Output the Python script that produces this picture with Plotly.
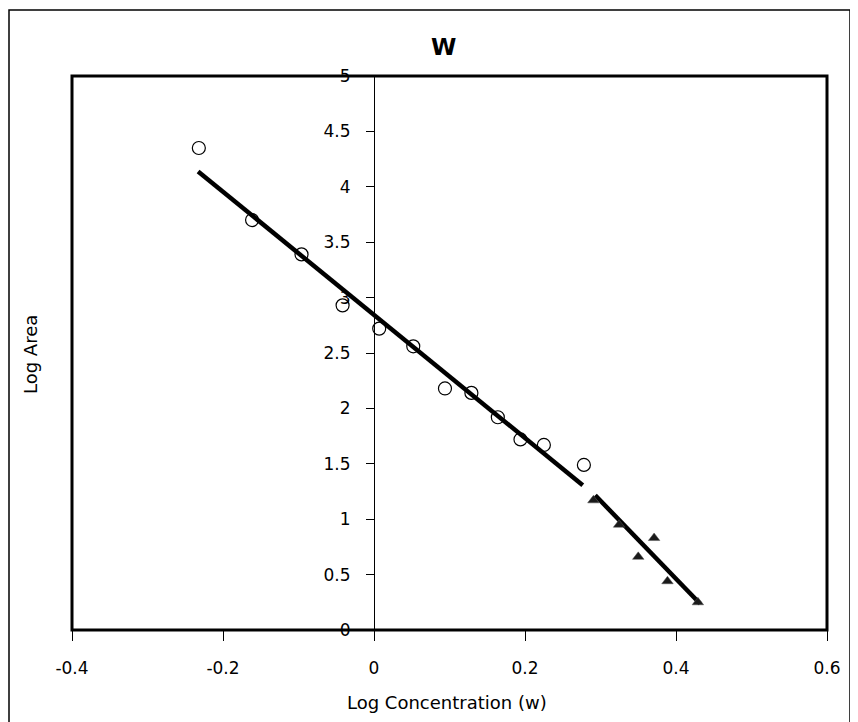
import plotly.graph_objects as go

# ---- data ----
conc_circle = [-0.232, -0.1615, -0.096, -0.0416, 0.0069, 0.052, 0.094, 0.129, 0.164, 0.194, 0.225, 0.278]
area_circle = [4.35, 3.70, 3.39, 2.93, 2.72, 2.56, 2.18, 2.14, 1.92, 1.72, 1.67, 1.49]

conc_tri = [0.2906, 0.3246, 0.350, 0.371, 0.3887, 0.429]
area_tri = [1.17, 0.95, 0.66, 0.83, 0.44, 0.25]

fit1_x = [-0.233, 0.2765]
fit1_y = [4.139, 1.307]
fit2_x = [0.293, 0.432]
fit2_y = [1.216, 0.237]

x_ticks = [-0.4, -0.2, 0, 0.2, 0.4, 0.6]
x_ticklabels = ["-0.4", "-0.2", "0", "0.2", "0.4", "0.6"]
y_ticks = [0, 0.5, 1, 1.5, 2, 2.5, 3, 3.5, 4, 4.5, 5]
y_ticklabels = ["0", "0.5", "1", "1.5", "2", "2.5", "3", "3.5", "4", "4.5", "5"]

title_text = "<b>W</b>"
x_title = "Log Concentration (w)"
y_title = "Log Area"

FONT = "DejaVu Sans, Verdana, sans-serif"

# page body has an 8px margin: figure-pixel helpers
W, H = 858, 722
ML, MR, MT, MB = 64, 39, 68, 100
PW, PH = W - ML - MR, H - MT - MB


def px_x(sx):
    """screen x -> paper x"""
    return (sx - 8 - ML) / PW


def px_y(sy):
    """screen y -> paper y"""
    return 1 - (sy - 8 - MT) / PH


fig = go.Figure()

fig.add_trace(go.Scatter(x=fit1_x, y=fit1_y, mode="lines",
                         line=dict(color="black", width=4.5), showlegend=False))
fig.add_trace(go.Scatter(x=fit2_x, y=fit2_y, mode="lines",
                         line=dict(color="black", width=4.5), showlegend=False))
fig.add_trace(go.Scatter(x=conc_circle, y=area_circle, mode="markers",
                         marker=dict(symbol="circle-open", size=13, color="black",
                                     line=dict(width=1.2, color="#222")),
                         showlegend=False))
fig.add_trace(go.Scatter(x=conc_tri, y=area_tri, mode="markers",
                         marker=dict(symbol="triangle-up", size=10, color="#1a1a1a",
                                     line=dict(width=0.5, color="#555")),
                         showlegend=False))

fig.update_layout(
    width=W, height=H,
    margin=dict(l=ML, r=MR, t=MT, b=MB),
    paper_bgcolor="white", plot_bgcolor="white",
    font=dict(family=FONT, size=17, color="black"),
    showlegend=False,
    xaxis=dict(
        range=[-0.4, 0.6], tickvals=x_ticks, ticktext=x_ticklabels,
        showgrid=False, zeroline=False,
        showline=False, ticks="outside", ticklen=10, tickwidth=1.2, tickcolor="black",
        ticklabelstandoff=13,
        tickfont=dict(family=FONT, size=17, color="black"),
    ),
    yaxis=dict(
        range=[0, 5], tickvals=y_ticks, ticktext=y_ticklabels,
        anchor="free", position=0.4,
        showgrid=False, zeroline=False,
        showline=True, linecolor="black", linewidth=1.2,
        ticks="outside", ticklen=8, tickwidth=1.2, tickcolor="black",
        ticklabelstandoff=12,
        tickfont=dict(family=FONT, size=17, color="black"),
    ),
    shapes=[
        # plot frame
        dict(type="rect", xref="paper", yref="paper", x0=0, x1=1, y0=0, y1=1,
             line=dict(color="black", width=3), layer="above"),
        # outer chart border
        dict(type="rect", xref="paper", yref="paper", x0=px_x(9), x1=px_x(850),
             y0=px_y(760), y1=px_y(10), line=dict(color="black", width=1.5), layer="below"),
    ],
    annotations=[
        dict(text=title_text, xref="paper", yref="paper", x=px_x(443),
             y=px_y(47), xanchor="center", yanchor="middle",
             showarrow=False, font=dict(family=FONT, size=23, color="black")),
        dict(text=x_title, xref="paper", yref="paper", x=px_x(447),
             y=px_y(702), xanchor="center", yanchor="middle",
             showarrow=False, font=dict(family=FONT, size=18, color="black")),
        dict(text=y_title, xref="paper", yref="paper", x=px_x(30),
             y=px_y(355), xanchor="center", yanchor="middle", textangle=-90,
             showarrow=False, font=dict(family=FONT, size=18, color="black")),
    ],
)

fig.write_html("out.html")
